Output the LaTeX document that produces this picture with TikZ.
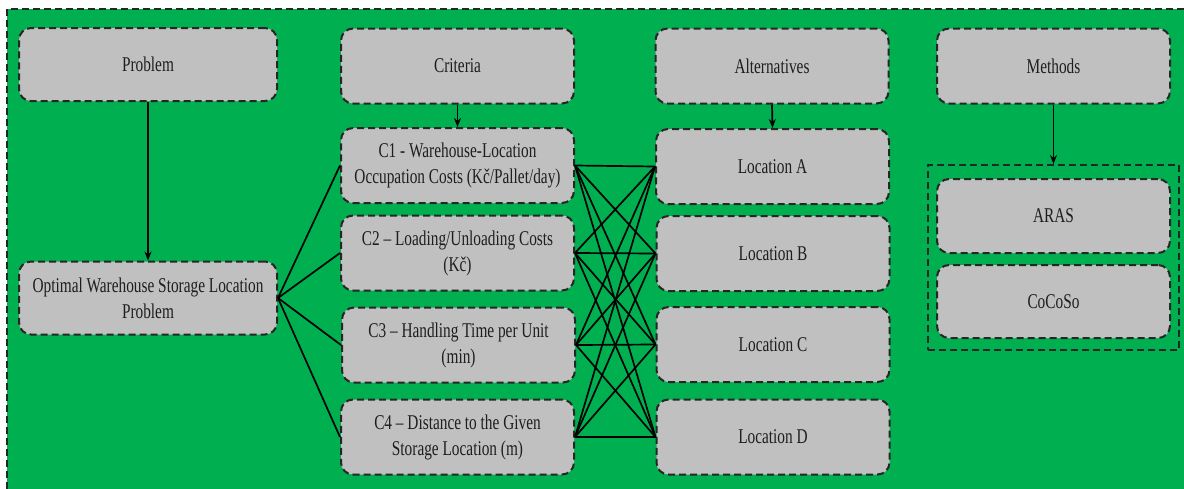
\documentclass[tikz,border=0pt]{standalone}
\usepackage{fontspec}
\setmainfont{Liberation Serif}[FakeStretch=0.73]
\usetikzlibrary{arrows.meta}
\definecolor{bggreen}{HTML}{00B050}
\definecolor{boxgray}{HTML}{C0C0C0}
\definecolor{txt}{HTML}{1E1E1E}
\tikzset{
  box/.style={draw=black!85, fill=boxgray, line width=2pt, dash pattern=on 7pt off 4pt,
    rounded corners=12pt, align=center, text=txt, inner sep=2pt,
    font=\fontsize{21}{26}\selectfont},
  wbox/.style={box, minimum width=258pt, minimum height=73pt},
  cbox/.style={box, minimum width=233pt, minimum height=75pt},
  link/.style={draw=black, line width=1.7pt},
  arr/.style={link, -{Stealth[length=9pt,width=7pt]}},
  grp/.style={draw=black!85, line width=2pt, dash pattern=on 7pt off 4pt,
    minimum width=251pt, minimum height=185pt}
}
\begin{document}
\begin{tikzpicture}[x=1pt,y=-1pt]
\useasboundingbox (0,0) rectangle (1184,488);
\clip (0,0) rectangle (1184,488);
\fill[bggreen] (7,9) rectangle (1195,500);
\draw[black!85, line width=2pt, dash pattern=on 7pt off 4pt] (7,500) -- (7,9) -- (1195,9);

\node[wbox] (prob) at (148,64.5) {Problem};
\node[cbox] (crit) at (457.5,66) {Criteria};
\node[cbox] (alt) at (772,66) {Alternatives};
\node[cbox] (meth) at (1053.5,66) {Methods};

\node[wbox] (opt) at (148,298) {Optimal Warehouse Storage Location\\Problem};

\node[cbox] (c1) at (457.5,165.5) {C1 - Warehouse-Location\\Occupation Costs (Kč/Pallet/day)};
\node[cbox] (c2) at (457.5,253) {C2 – Loading/Unloading Costs\\(Kč)};
\node[cbox] (c3) at (458.5,345) {C3 – Handling Time per Unit\\(min)};
\node[cbox] (c4) at (457.5,437) {C4 – Distance to the Given\\Storage Location (m)};

\node[cbox] (la) at (772.5,166.5) {Location A};
\node[cbox] (lb) at (773,253.5) {Location B};
\node[cbox] (lc) at (773,344.5) {Location C};
\node[cbox] (ld) at (773,437) {Location D};

\node[grp] (mg) at (1053.5,257.5) {};
\node[cbox, minimum height=74pt] (aras) at (1053.5,216) {ARAS};
\node[cbox, minimum height=73pt] (coco) at (1053.5,301.5) {CoCoSo};

\draw[arr] (prob.south) -- (opt.north);
\draw[arr] (crit.south) -- (c1.north);
\draw[arr] (alt.south) -- (la.north);
\draw[arr] (meth.south) -- (mg.north);

\foreach \c in {c1,c2,c3,c4}{
  \draw[link] (opt.east) -- (\c.west);
  \foreach \l in {la,lb,lc,ld}{
    \draw[link] (\c.east) -- (\l.west);
  }
}
\end{tikzpicture}
\end{document}
